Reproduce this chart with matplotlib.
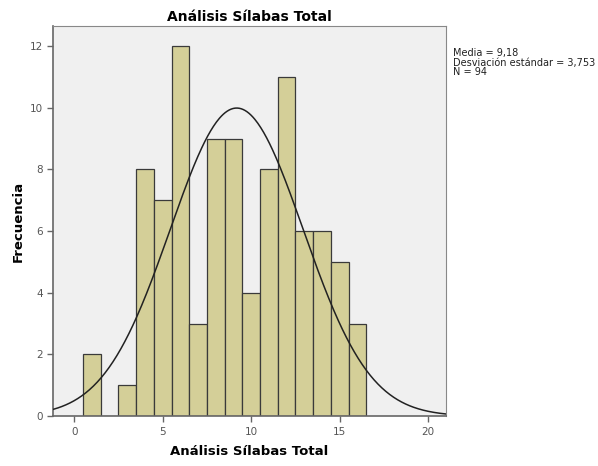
import numpy as np
import matplotlib
matplotlib.use("Agg")
import matplotlib.pyplot as plt

values = [1, 2, 3, 4, 5, 6, 7, 8, 9, 10, 11, 12, 13, 14, 15, 16]
counts = [2, 0, 1, 8, 7, 12, 3, 9, 9, 4, 8, 11, 6, 6, 5, 3]
mean = 9.18
sd = 3.753
n = 94
xticks = [0, 5, 10, 15, 20]
yticks = [0, 2, 4, 6, 8, 10, 12]

fig = plt.figure(figsize=(5.98, 4.66), dpi=100)
fig.patch.set_facecolor("white")
ax = fig.add_axes([0.0886, 0.107, 0.657, 0.837])
ax.set_facecolor("#f0f0f0")

ax.bar(values, counts, width=1.0, color="#d4cf98", edgecolor="#3a3a3a", linewidth=0.9, zorder=2)

xs = np.linspace(-1.2, 21.0, 400)
ys = n * 1.0 / (sd * np.sqrt(2 * np.pi)) * np.exp(-0.5 * ((xs - mean) / sd) ** 2)
ax.plot(xs, ys, color="#222222", linewidth=1.1, zorder=3)

ax.set_xlim(-1.2, 21.0)
ax.set_ylim(0, 12.65)
ax.set_xticks(xticks)
ax.set_yticks(yticks)
ax.tick_params(axis="both", labelsize=7.5, colors="#666666", length=4, width=1, labelcolor="#555555")
for s in ["top", "right"]:
    ax.spines[s].set_color("#888888")
    ax.spines[s].set_linewidth(0.8)
for s in ["left", "bottom"]:
    ax.spines[s].set_color("#666666")
    ax.spines[s].set_linewidth(1.2)

ax.set_title("Análisis Sílabas Total", fontsize=10, fontweight="bold", pad=4)
ax.set_xlabel("Análisis Sílabas Total", fontsize=9.5, fontweight="bold", labelpad=6)
ax.set_ylabel("Frecuencia", fontsize=9.5, fontweight="bold", labelpad=3)

fig.text(0.757, 0.897, "Media = 9,18\nDesviación estándar = 3,753\nN = 94",
         fontsize=7, va="top", ha="left", linespacing=0.95, color="#222222")

fig.savefig("out.png", dpi=100)
